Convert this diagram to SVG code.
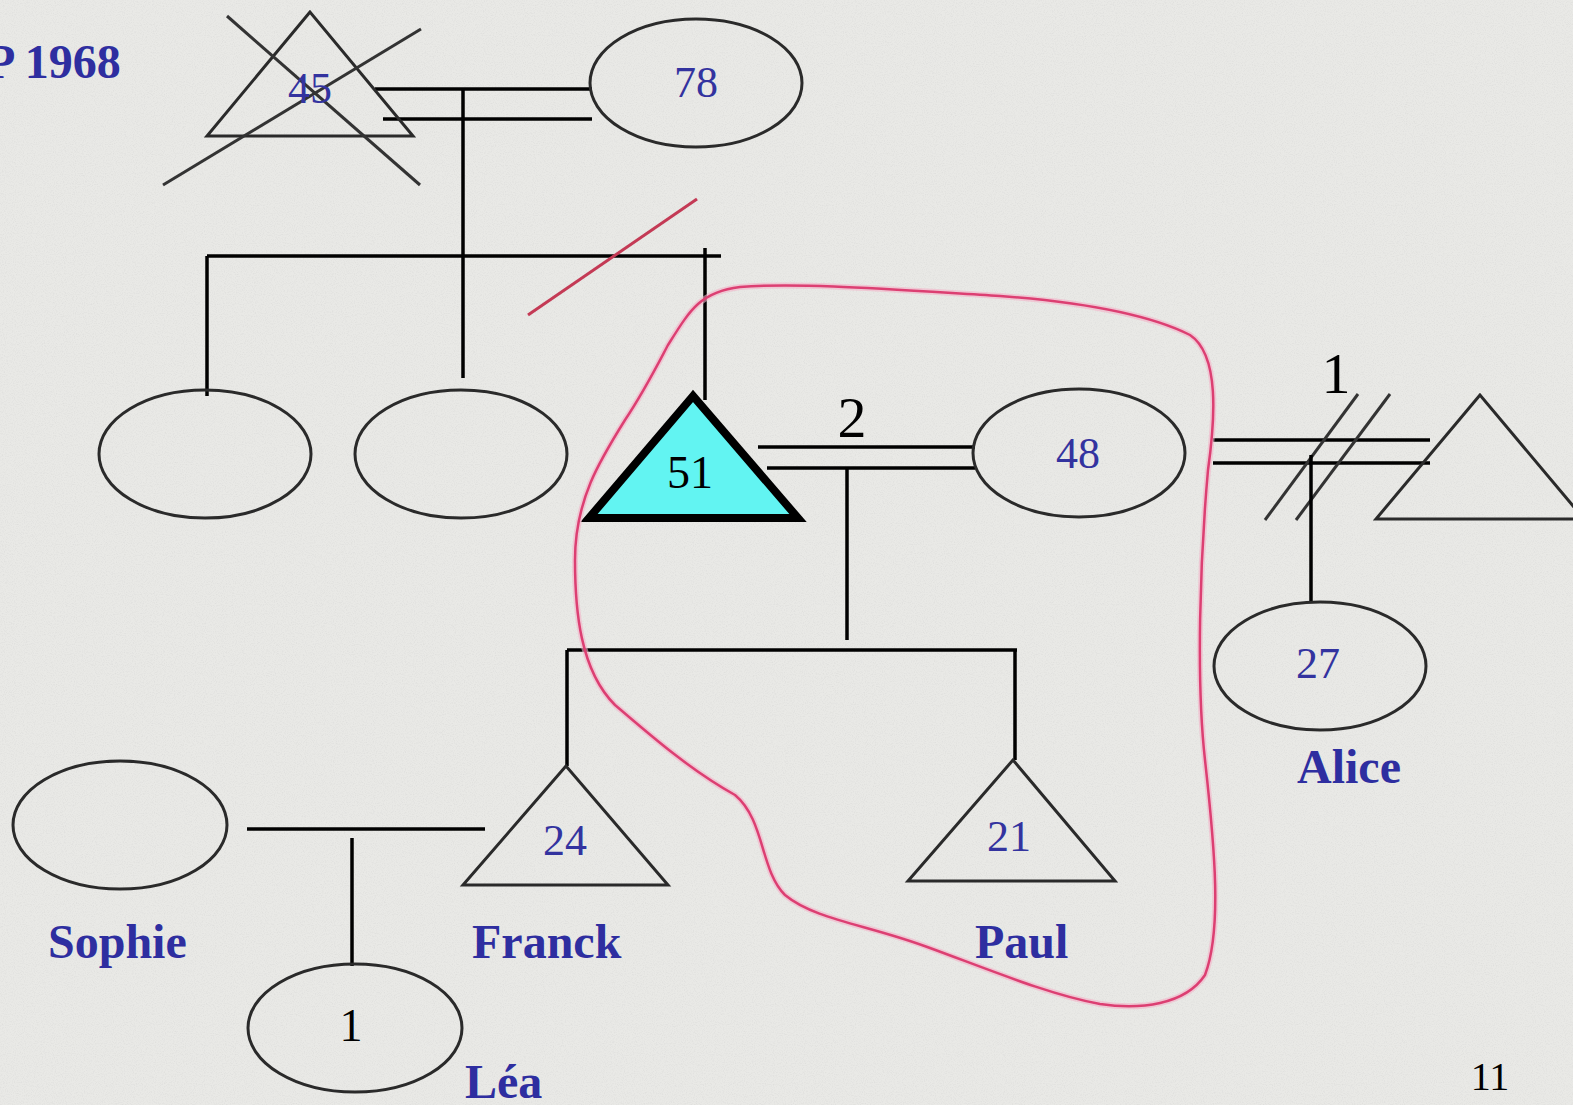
<svg xmlns="http://www.w3.org/2000/svg" width="1573" height="1105" viewBox="0 0 1573 1105">
<defs>
<filter id="grain" x="0" y="0" width="100%" height="100%">
<feTurbulence type="fractalNoise" baseFrequency="0.9" numOctaves="2" seed="3" result="n"/>
<feColorMatrix type="matrix" values="0 0 0 0 0.55  0 0 0 0 0.55  0 0 0 0 0.55  0 0 0 -1.6 0.9"/>
</filter>
<style>
.shape{fill:none;stroke:#2a2a2a;stroke-width:3}
.line{fill:none;stroke:#000;stroke-width:3.5}
.num{font-family:"Liberation Serif",serif;font-size:44px;fill:#33339f;text-anchor:middle}
.blk{font-family:"Liberation Serif",serif;fill:#000;text-anchor:middle}
.name{font-family:"Liberation Serif",serif;font-size:48px;font-weight:bold;fill:#2e2ea0}
</style>
</defs>
<rect width="1573" height="1105" fill="#e9e9e6"/>
<rect width="1573" height="1105" filter="url(#grain)" opacity="0.35"/>

<text class="name" x="-14" y="78" font-size="47">P 1968</text>

<g id="connectors">
<line class="line" x1="375" y1="89" x2="592" y2="89"/>
<line class="line" x1="383" y1="119" x2="592" y2="119"/>
<line class="line" x1="463" y1="89" x2="463" y2="378"/>
<line class="line" x1="207" y1="256" x2="721" y2="256"/>
<line class="line" x1="207" y1="256" x2="207" y2="396"/>
<line class="line" x1="705" y1="248" x2="705" y2="400"/>
<line x1="528" y1="315" x2="697" y2="199" stroke="#c43a55" stroke-width="3"/>
<line class="line" x1="758" y1="447" x2="975" y2="447"/>
<line class="line" x1="767" y1="468" x2="975" y2="468"/>
<line class="line" x1="847" y1="468" x2="847" y2="640"/>
<line class="line" x1="567" y1="650" x2="1017" y2="650"/>
<line class="line" x1="567" y1="650" x2="567" y2="766"/>
<line class="line" x1="1015" y1="650" x2="1015" y2="760"/>
<line class="line" x1="1213" y1="440" x2="1430" y2="440"/>
<line class="line" x1="1213" y1="463" x2="1430" y2="463"/>
<line x1="1265" y1="520" x2="1358" y2="394" stroke="#333" stroke-width="3"/>
<line x1="1296" y1="520" x2="1390" y2="394" stroke="#333" stroke-width="3"/>
<line class="line" x1="1311" y1="455" x2="1311" y2="602"/>
<line class="line" x1="247" y1="829" x2="485" y2="829"/>
<line class="line" x1="352" y1="838" x2="352" y2="966"/>
<text class="blk" x="852" y="437" font-size="58">2</text>
<text class="blk" x="1336" y="393" font-size="58">1</text>
</g>

<g id="n45">
<polygon class="shape" points="310,12 207,136 413,136"/>
<line x1="163" y1="185" x2="421" y2="29" stroke="#333" stroke-width="3"/>
<line x1="227" y1="16" x2="420" y2="185" stroke="#333" stroke-width="3"/>
<text class="num" x="310" y="103">45</text>
</g>
<g id="n78">
<ellipse class="shape" cx="696" cy="83" rx="106" ry="64"/>
<text class="num" x="696" y="97">78</text>
</g>
<g id="sib1"><ellipse class="shape" cx="205" cy="454" rx="106" ry="64"/></g>
<g id="sib2"><ellipse class="shape" cx="461" cy="454" rx="106" ry="64"/></g>
<g id="n51">
<polygon points="693,396 589,518 798,518" fill="#62f4f2" stroke="#000" stroke-width="8" stroke-linejoin="miter"/>
<text class="blk" x="690" y="488" font-size="46">51</text>
</g>
<g id="n48">
<ellipse class="shape" cx="1079" cy="453" rx="106" ry="64"/>
<text class="num" x="1078" y="468">48</text>
</g>
<g id="nright">
<polygon class="shape" points="1480,395 1376,519 1584,519"/>
</g>
<g id="alice">
<ellipse class="shape" cx="1320" cy="666" rx="106" ry="64"/>
<text class="num" x="1318" y="678">27</text>
<text class="name" x="1297" y="783">Alice</text>
</g>
<g id="sophie">
<ellipse class="shape" cx="120" cy="825" rx="107" ry="64"/>
<text class="name" x="48" y="958">Sophie</text>
</g>
<g id="franck">
<polygon class="shape" points="566,766 463,885 668,885"/>
<text class="num" x="565" y="855">24</text>
<text class="name" x="472" y="958">Franck</text>
</g>
<g id="paul">
<polygon class="shape" points="1013,760 908,881 1115,881"/>
<text class="num" x="1009" y="851">21</text>
<text class="name" x="975" y="958">Paul</text>
</g>
<g id="lea">
<ellipse class="shape" cx="355" cy="1028" rx="107" ry="64"/>
<text class="blk" x="351" y="1041" font-size="46">1</text>
<text class="name" x="465" y="1098">Léa</text>
</g>

<g id="circle">
<path d="M668,345 C690,310 700,292 740,287 C800,282 900,290 1000,296 C1080,302 1150,315 1190,335 C1220,355 1215,420 1208,470 C1200,560 1196,680 1205,760 C1215,850 1222,930 1205,975 C1185,1005 1140,1010 1100,1004 C1050,995 990,970 930,948 C870,925 815,920 785,895 C760,870 765,820 735,795 C690,770 650,735 615,705 C580,670 575,610 575,560 C575,500 600,460 625,420 C645,390 660,360 668,345 Z" fill="none" stroke="#f3b3c8" stroke-width="6" opacity="0.6"/>
<path d="M668,345 C690,310 700,292 740,287 C800,282 900,290 1000,296 C1080,302 1150,315 1190,335 C1220,355 1215,420 1208,470 C1200,560 1196,680 1205,760 C1215,850 1222,930 1205,975 C1185,1005 1140,1010 1100,1004 C1050,995 990,970 930,948 C870,925 815,920 785,895 C760,870 765,820 735,795 C690,770 650,735 615,705 C580,670 575,610 575,560 C575,500 600,460 625,420 C645,390 660,360 668,345 Z" fill="none" stroke="#dc3f72" stroke-width="2.5"/>
</g>

<text class="blk" x="1490" y="1090" font-size="40">11</text>
</svg>
